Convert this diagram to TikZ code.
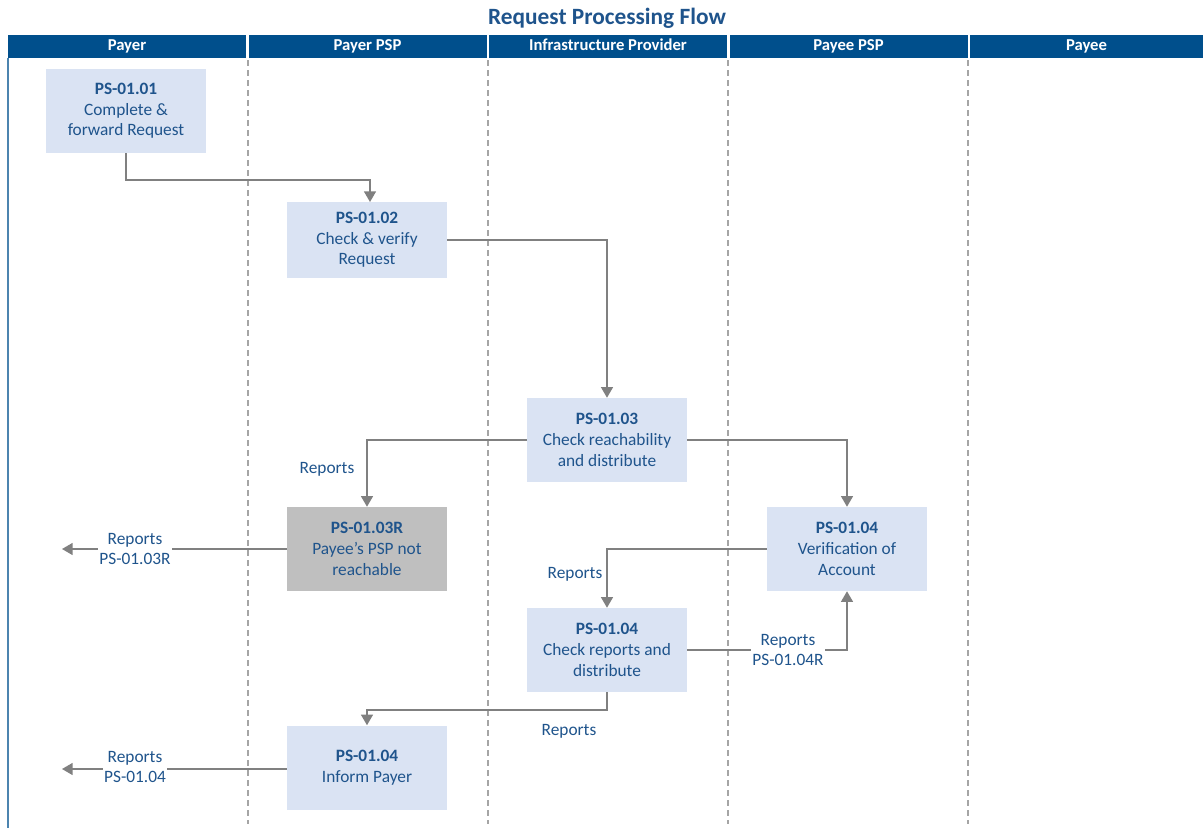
\documentclass[tikz,border=0pt]{standalone}
\usepackage{fontspec}
\setmainfont{Carlito}
\usetikzlibrary{arrows.meta}
\definecolor{hdr}{RGB}{0,79,140}
\definecolor{txt}{RGB}{31,84,140}
\definecolor{boxfill}{RGB}{218,227,243}
\definecolor{greybox}{RGB}{191,191,191}
\definecolor{conn}{RGB}{128,128,128}
\definecolor{lane}{RGB}{165,165,165}
\tikzset{
  stepbox/.style={fill=boxfill, draw=none, minimum width=120pt, minimum height=63pt, inner sep=1pt,
    text=txt, align=center, font=\fontsize{13}{15.5}\selectfont},
  greystep/.style={stepbox, fill=greybox},
  hdrbox/.style={fill=hdr, draw=none, text=white, font=\bfseries\fontsize{12.5}{14}\selectfont, inner sep=0pt,
    minimum height=17.5pt, text height=9pt, text depth=2.5pt},
  connector/.style={draw=conn, line width=1.1pt, -{Triangle[width=9pt,length=8pt]}},
  lbl/.style={text=txt, align=center, font=\fontsize{13}{15.5}\selectfont, inner sep=1pt},
  lblw/.style={lbl, fill=white},
  lanesep/.style={draw=lane, line width=0.9pt, dash pattern=on 4.5pt off 3pt}
}
\begin{document}
\begin{tikzpicture}[x=0.75pt,y=-0.75pt]
\useasboundingbox (0,0) rectangle (1203,828);
% title
\node[text=txt, font=\bfseries\fontsize{17.5}{20}\selectfont] (title) at (607,18) {Request Processing Flow};
% header boxes
\node[hdrbox, minimum width=178.5pt] (h1) at (127,46.5) {Payer};
\node[hdrbox, minimum width=178.5pt] (h2) at (367.5,46.5) {Payer PSP};
\node[hdrbox, minimum width=179pt] (h3) at (608,46.5) {Infrastructure Provider};
\node[hdrbox, minimum width=178.5pt] (h4) at (848.5,46.5) {Payee PSP};
\node[hdrbox, minimum width=175pt] (h5) at (1086.5,46.5) {Payee};
% left border
\draw[draw=hdr!70, line width=1pt] (8,58) -- (8,828);
% lane separators
\foreach \x in {248,488,728,968} {
  \draw[lanesep] (\x,60) -- (\x,824);
}
% steps
\node[stepbox] (s1) at (126,111) {\textbf{PS-01.01}\\Complete \&\\forward Request};
\node[stepbox, minimum height=57pt] (s2) at (367,240) {\textbf{PS-01.02}\\Check \& verify\\Request};
\node[stepbox] (s3) at (607,440) {\textbf{PS-01.03}\\Check reachability\\and distribute};
\node[greystep] (s3r) at (367,549) {\textbf{PS-01.03R}\\Payee’s PSP not\\reachable};
\node[stepbox] (s4v) at (847,549) {\textbf{PS-01.04}\\Verification of\\Account};
\node[stepbox] (s4c) at (607,650) {\textbf{PS-01.04}\\Check reports and\\distribute};
\node[stepbox] (s4i) at (367,767.5) {\textbf{PS-01.04}\\Inform Payer};
% free ends
\coordinate (e1) at (62,549);
\coordinate (e2) at (62,769);
% connectors
\draw[connector] (s1.south) -- (s1.south |- 0,180) -- (370,180) -- (370,202);
\draw[connector] (s2.east) -- (s2.east -| s3.north) -- (s3.north);
\draw[connector] (s3.west) -- (s3.west -| s3r.north) -- (s3r.north);
\draw[connector] (s3.east) -- (s3.east -| s4v.north) -- (s4v.north);
\draw[connector] (s4v.west) -- (s4v.west -| s4c.north) -- (s4c.north);
\draw[connector] (s4c.east) -- (s4c.east -| s4v.south) -- (s4v.south);
\draw[connector] (s4c.south) -- (s4c.south |- 0,710) -- (s4i.north |- 0,710) -- (s4i.north);
\draw[connector] (s3r.west) -- (e1);
\draw[connector] (s4i.west |- e2) -- (e2);
% labels
\node[lbl] (l1) at (327,469) {Reports};
\node[lbl] (l2) at (575,574) {Reports};
\node[lbl] (l3) at (569,731) {Reports};
\node[lblw] (l4) at (135,549) {Reports\\PS-01.03R};
\node[lblw] (l5) at (135,767) {Reports\\PS-01.04};
\node[lblw] (l6) at (788,650) {Reports\\PS-01.04R};
\end{tikzpicture}
\end{document}
